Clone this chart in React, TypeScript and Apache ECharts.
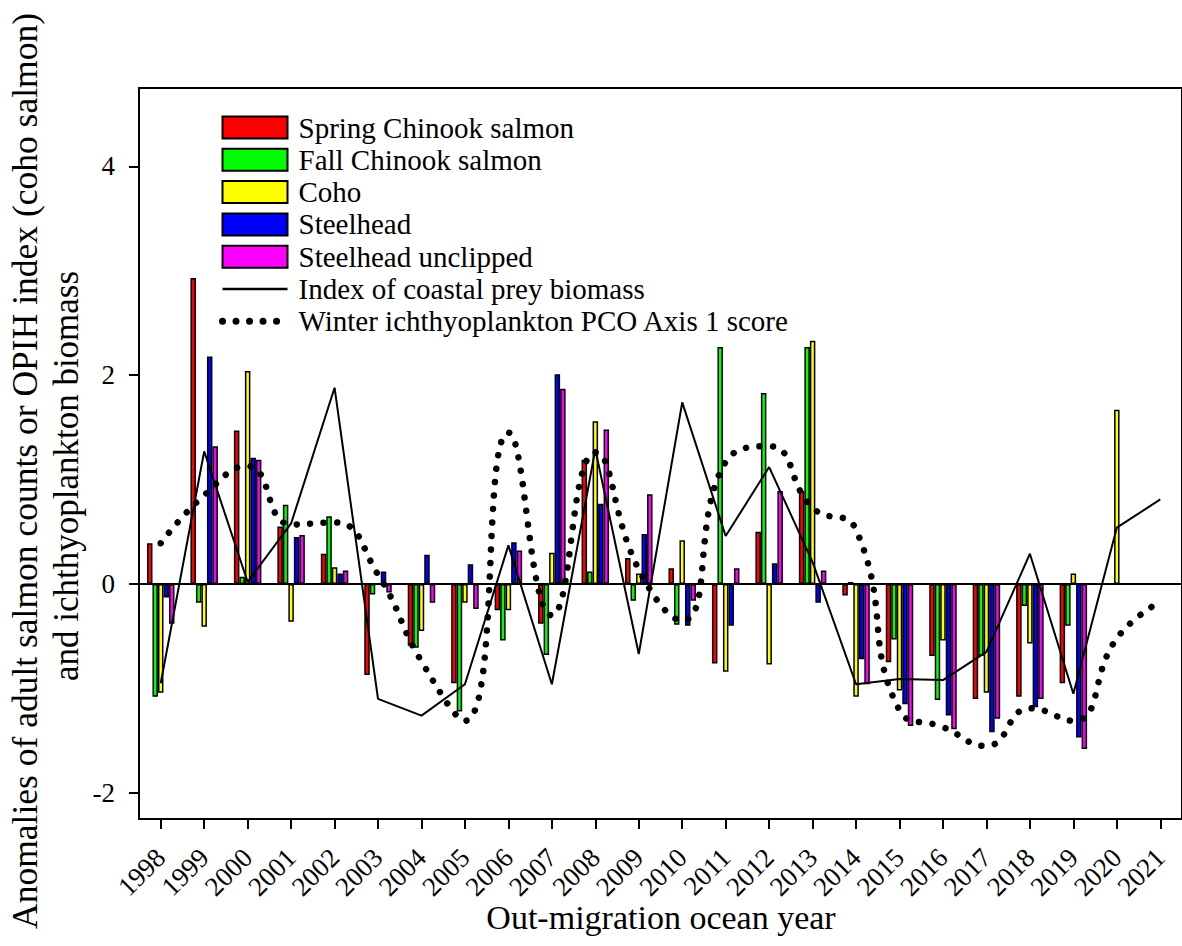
import React, { useEffect, useRef } from "react";
import * as echarts from "echarts";

const years = ["1998","1999","2000","2001","2002","2003","2004","2005","2006","2007","2008","2009","2010","2011","2012","2013","2014","2015","2016","2017","2018","2019","2020","2021"];

const springChinook = [0.39, 2.93, 1.47, 0.55, 0.29, -0.87, -0.59, -0.95, -0.25, -0.38, 1.19, 0.25, 0.15, -0.76, 0.50, 0.89, -0.11, -0.75, -0.69, -1.10, -1.08, -0.95, null, null];
const fallChinook = [-1.08, -0.18, 0.07, 0.76, 0.65, -0.10, -0.61, -1.22, -0.54, -0.68, 0.12, -0.16, -0.39, 2.27, 1.83, 2.27, 0.02, -0.53, -1.11, -0.69, -0.21, -0.40, null, null];
const coho = [-1.04, -0.41, 2.04, -0.36, 0.16, 0, -0.45, -0.18, -0.25, 0.30, 1.56, 0.10, 0.42, -0.84, -0.77, 2.33, -1.08, -1.02, -0.54, -1.04, -0.57, 0.10, 1.67, null];
const steelhead = [-0.13, 2.18, 1.21, 0.45, 0.10, 0.12, 0.28, 0.19, 0.40, 2.01, 0.77, 0.48, -0.40, -0.40, 0.20, -0.18, -0.72, -1.15, -1.26, -1.42, -1.18, -1.47, null, null];
const steelheadUnclipped = [-0.38, 1.32, 1.19, 0.47, 0.13, -0.08, -0.18, -0.24, 0.32, 1.87, 1.48, 0.86, -0.16, 0.15, 0.89, 0.13, -0.96, -1.36, -1.39, -1.29, -1.10, -1.58, null, null];
const preyIndex = [-0.95, 1.27, 0.02, 0.58, 1.88, -1.10, -1.26, -0.96, 0.37, -0.96, 1.29, -0.67, 1.74, 0.46, 1.12, 0.21, -0.96, -0.91, -0.92, -0.65, 0.29, -1.05, 0.54, 0.81];
const pcoScore = [0.39, 0.85, 1.13, 0.57, 0.59, 0.09, -0.74, -1.31, 1.45, -0.30, 1.26, 0.14, -0.35, 1.17, 1.32, 0.73, 0.52, -1.21, -1.37, -1.55, -1.19, -1.31, -0.52, -0.17];
const yTicks = [-2, 0, 2, 4];

const FONT = "'Liberation Serif', 'Times New Roman', serif";

export default function App() {
  const ref = useRef<HTMLDivElement>(null);
  useEffect(() => {
    if (!ref.current) return;
    const chart = echarts.init(ref.current, null, { renderer: "svg" });
    const barSeries = (name: string, data: (number | null)[], color: string, extra: any = {}) => ({
      type: "bar",
      name,
      data,
      barWidth: 5.5,
      barGap: "0%",
      itemStyle: { color, borderColor: "#000", borderWidth: 1.5 },
      z: 2,
      ...extra,
    });
    const axisLineStyle = { color: "#000", width: 2 };
    const dotted = { color: "#000", width: 6.5, type: [0.01, 13.5], cap: "round" };
    chart.setOption({
      animation: false,
      backgroundColor: "#fff",
      textStyle: { fontFamily: FONT },
      grid: { left: 139, top: 88, width: 1044, height: 731, show: true, borderColor: "#000", borderWidth: 2, backgroundColor: "transparent", containLabel: false },
      xAxis: {
        type: "category",
        data: years,
        boundaryGap: true,
        axisLine: { show: true, onZero: false, lineStyle: axisLineStyle },
        axisTick: { show: true, alignWithLabel: true, length: 10, lineStyle: axisLineStyle },
        axisLabel: { rotate: 45, fontSize: 27, color: "#000", margin: 34, interval: 0, fontFamily: FONT },
        splitLine: { show: false },
      },
      yAxis: {
        type: "value",
        min: -2.25,
        max: 4.75,
        splitNumber: 3,
        axisLine: { show: true, lineStyle: axisLineStyle },
        axisTick: { show: true, length: 10, lineStyle: axisLineStyle, customValues: yTicks },
        axisLabel: {
          fontSize: 27,
          color: "#000",
          margin: 24,
          fontFamily: FONT,
          showMinLabel: false,
          showMaxLabel: false,
          formatter: (v: number) => (yTicks.indexOf(v) >= 0 ? String(v) : ""),
        },
        splitLine: { show: false },
      },
      legend: {
        orient: "vertical",
        left: 219,
        top: 113,
        padding: 0,
        itemWidth: 65,
        itemHeight: 22,
        itemGap: 3.3,
        textStyle: { fontSize: 29, color: "#000", fontFamily: FONT, padding: [0, 0, 0, 6] },
        data: [
          { name: "Spring Chinook salmon", icon: "rect" },
          { name: "Fall Chinook salmon", icon: "rect" },
          { name: "Coho", icon: "rect" },
          { name: "Steelhead", icon: "rect" },
          { name: "Steelhead unclipped", icon: "rect" },
          { name: "Index of coastal prey biomass", itemStyle: { opacity: 0 }, lineStyle: { color: "#000", width: 2.5 } },
          { name: "Winter ichthyoplankton PCO Axis 1 score", itemStyle: { opacity: 0 }, lineStyle: { ...dotted, width: 7 } },
        ],
      },
      graphic: [
        {
          type: "text",
          x: 25,
          y: 471,
          rotation: Math.PI / 2,
          style: { text: "Anomalies of adult salmon counts or OPIH index (coho salmon)", fontSize: 35.5, fontFamily: FONT, fill: "#000", align: "center", verticalAlign: "middle", textAlign: "center", textVerticalAlign: "middle" },
        },
        {
          type: "text",
          x: 66,
          y: 476,
          rotation: Math.PI / 2,
          style: { text: "and ichthyoplankton biomass", fontSize: 35, fontFamily: FONT, fill: "#000", align: "center", verticalAlign: "middle", textAlign: "center", textVerticalAlign: "middle" },
        },
        {
          type: "text",
          x: 661,
          y: 917,
          style: { text: "Out-migration ocean year", fontSize: 34, fontFamily: FONT, fill: "#000", align: "center", verticalAlign: "middle", textAlign: "center", textVerticalAlign: "middle" },
        },
      ],
      series: [
        barSeries("Spring Chinook salmon", springChinook, "#ff0000", {
          markLine: {
            silent: true,
            symbol: "none",
            label: { show: false },
            lineStyle: { color: "#000", width: 2, type: "solid" },
            data: [{ yAxis: 0 }],
            z: 3,
          },
        }),
        barSeries("Fall Chinook salmon", fallChinook, "#00ff00"),
        barSeries("Coho", coho, "#ffff00"),
        barSeries("Steelhead", steelhead, "#0000ff"),
        barSeries("Steelhead unclipped", steelheadUnclipped, "#ff00ff"),
        {
          type: "line",
          name: "Index of coastal prey biomass",
          data: preyIndex,
          symbol: "none",
          symbolSize: 0,
          showSymbol: false,
          itemStyle: { color: "#000" },
          lineStyle: { color: "#000", width: 2 },
          z: 5,
        },
        {
          type: "line",
          name: "Winter ichthyoplankton PCO Axis 1 score",
          data: pcoScore,
          symbol: "none",
          symbolSize: 0,
          showSymbol: false,
          smooth: 0.5,
          itemStyle: { color: "#000" },
          lineStyle: dotted,
          z: 6,
        },
      ],
    });
    return () => chart.dispose();
  }, []);
  return <div ref={ref} style={{ position: "absolute", left: 0, top: 0, width: 1182, height: 946 }} />;
}
